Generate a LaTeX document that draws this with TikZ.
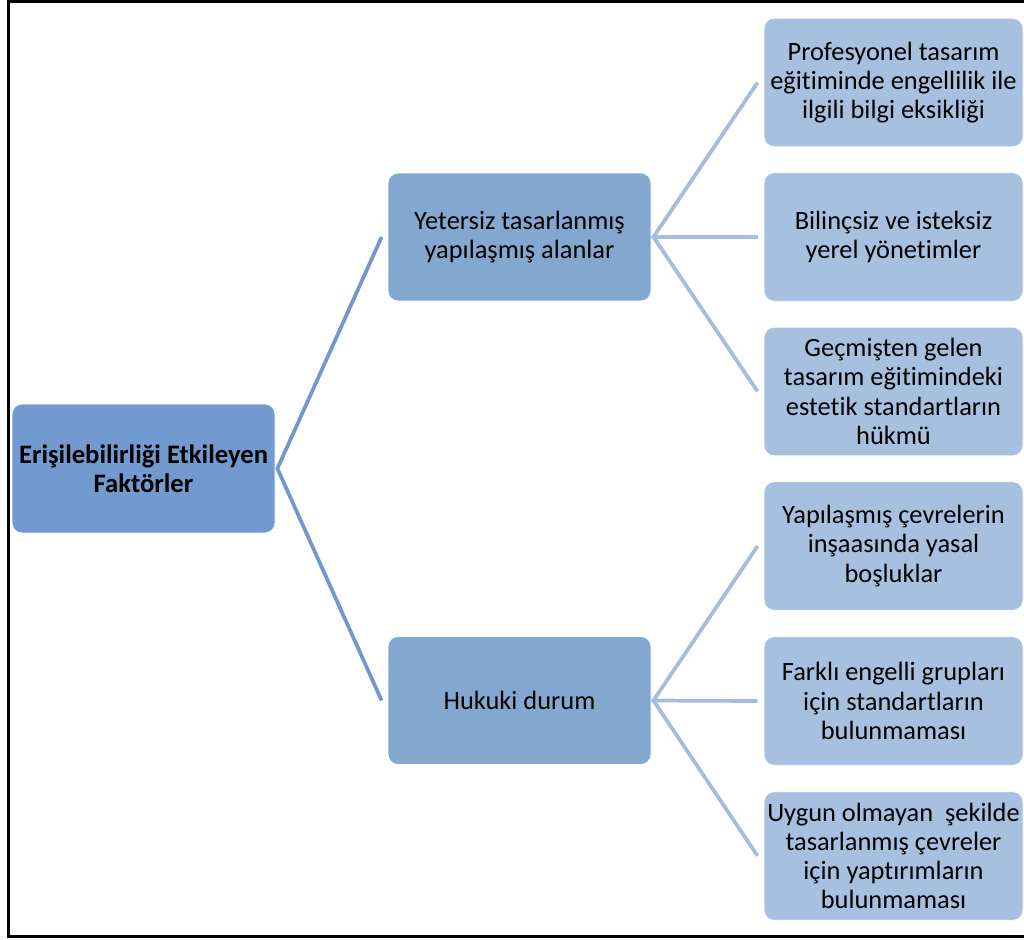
\documentclass[tikz,border=0pt]{standalone}
\usepackage{fontspec}
\setmainfont[Ligatures=NoCommon]{Carlito}
\definecolor{rootfill}{HTML}{729ACE}
\definecolor{midfill}{HTML}{84A7D0}
\definecolor{leaffill}{HTML}{A8C0DF}
\definecolor{rootline}{HTML}{7397CC}
\definecolor{leafline}{HTML}{A6BCDC}
\tikzset{
  basebox/.style={rectangle, rounded corners=7.5pt, draw=white, line width=0.6pt, inner sep=0pt, align=center,
    font=\fontsize{19.8pt}{21.9pt}\selectfont, text=black},
  rootbox/.style={basebox, fill=rootfill, minimum width=197.25pt, minimum height=96.75pt, font=\fontsize{20pt}{21.6pt}\selectfont\bfseries},
  midbox/.style={basebox, fill=midfill, minimum width=197.25pt, minimum height=96pt},
  leafbox/.style={basebox, fill=leaffill, minimum width=194.25pt, minimum height=96.4pt},
  rootlink/.style={draw=rootline, line width=2.8pt},
  leaflink/.style={draw=leafline, line width=2.8pt},
  frameline/.style={draw=black, line width=2.4pt}
}
\begin{document}
\begin{tikzpicture}[x=0.75pt,y=-0.75pt]
\useasboundingbox (0,0) rectangle (1024,939);
\draw[frameline] (1030,1.5) -- (8.5,1.5) -- (8.5,936.5) -- (1030,936.5);

\node[rootbox] (root) at (143.5,468.5) {Erişilebilirliği Etkileyen\\Faktörler};
\node[midbox] (m1) at (519.5,237) {Yetersiz tasarlanmış\\yapılaşmış alanlar};
\node[midbox] (m2) at (519.5,700.5) {Hukuki durum};

\node[leafbox] (l1) at (893.5,82.5) {Profesyonel tasarım\\eğitiminde engellilik ile\\ilgili bilgi eksikliği};
\node[leafbox] (l2) at (893.5,237) {Bilinçsiz ve isteksiz\\yerel yönetimler};
\node[leafbox] (l3) at (893.5,391.5) {Geçmişten gelen\\tasarım eğitimindeki\\estetik standartların\\hükmü};
\node[leafbox] (l4) at (893.5,546) {Yapılaşmış çevrelerin\\inşaasında yasal\\boşluklar};
\node[leafbox] (l5) at (893.5,701) {Farklı engelli grupları\\için standartların\\bulunmaması};
\node[leafbox] (l6) at (893.5,856) {Uygun olmayan\ \ şekilde\\tasarlanmış çevreler\\için yaptırımların\\bulunmaması};

\draw[rootlink] ([xshift=-4.5pt]m1.west) -- ([xshift=1.5pt]root.east) -- ([xshift=-4.5pt]m2.west);

\draw[leaflink] ([xshift=-4.5pt]l1.west) -- ([xshift=1.5pt]m1.east) -- ([xshift=-4.5pt]l3.west);
\draw[leaflink] ([xshift=1.5pt]m1.east) -- ([xshift=-4.5pt]l2.west);
\draw[leaflink] ([xshift=-4.5pt]l4.west) -- ([xshift=1.5pt]m2.east) -- ([xshift=-4.5pt]l6.west);
\draw[leaflink] ([xshift=1.5pt]m2.east) -- ([xshift=-4.5pt]l5.west);
\end{tikzpicture}
\end{document}
